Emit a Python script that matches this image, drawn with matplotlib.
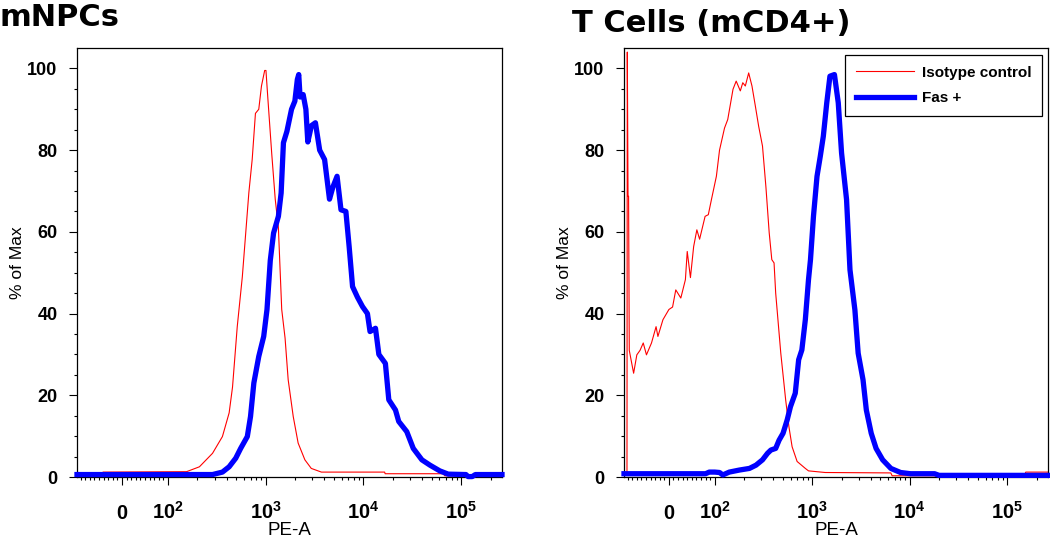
import numpy as np
import matplotlib
matplotlib.use("Agg")
from matplotlib import pyplot as plt
from matplotlib.ticker import FixedLocator

plt.rcParams['font.family'] = ['Liberation Sans', 'DejaVu Sans']
plt.rcParams['mathtext.fontset'] = 'custom'
plt.rcParams['mathtext.rm'] = 'Liberation Sans'
plt.rcParams['mathtext.bf'] = 'Liberation Sans:bold'

# Histogrammes (PE-A, % of Max).
npc_iso_x = [-41, 155, 210, 286, 361, 423, 458, 512, 577, 673, 728, 786, 850, 906, 977, 1007,
             1055, 1155, 1253, 1350, 1460, 1580, 1700, 1915, 2150, 2520, 2930, 3720, 16500,
             16700, 66000, 68000, 262144]
npc_iso_y = [1.2, 1.3, 2.5, 5.8, 9.9, 15.7, 22, 36.8, 49, 69.6, 77.7, 89, 90, 95.7, 99.5, 99.5,
             92.4, 79, 68, 61, 41, 34, 23.8, 14.8, 8.3, 4.2, 2.1, 1.2, 1.2,
             0.8, 0.8, 0.3, 0.3]

npc_fas_x = [-98, 132, 286, 361, 423, 494, 555, 649, 700, 757, 850, 955, 1032, 1115, 1205, 1350,
             1440, 1520, 1650, 1840, 1990, 2110, 2180, 2250, 2420, 2580, 2700, 2940, 3230, 3570,
             4010, 4500, 4880, 5380, 5900, 6620, 7150, 7750, 8700, 9800, 11000, 11700, 13300,
             14400, 16800, 18200, 21300, 23000, 27800, 32400, 39700, 48000, 60500, 73800,
             112000, 118000, 130000, 140000, 262144]
npc_fas_y = [0.6, 0.6, 0.6, 1.2, 2.5, 4.6, 7, 9.9, 14.8, 23, 29.5, 34.4, 41, 53, 59.7, 63.8,
             69.5, 81.8, 84.6, 90, 92, 97.3, 98.5, 93, 93.6, 90, 82, 86, 86.7, 80,
             77.7, 68, 71, 73.6, 65.4, 65, 56.4, 46.6, 44, 41.7, 40, 35.6, 36.4,
             30, 27.8, 18.9, 16.4, 13.6, 11.1, 7, 4.2, 2.9, 1.5, 0.7,
             0.6, 0.1, 0.1, 0.6, 0.6]

tc_iso_x = [-91.5, -90.8, -89.2, -88.0, -86.5, -77, -70, -63, -56, -49, -38, -28, -24, -13, 0, 8,
            15, 26, 36, 40, 47, 54, 61, 67, 79, 86, 93, 104, 112, 126, 136, 154, 166, 183, 194,
            206, 223, 241, 261, 282, 309, 335, 362, 385, 406, 422, 476, 534, 577, 622, 700, 850,
            916, 1360, 6400, 6600, 150000, 155000, 262144]
tc_iso_y = [0.8, 104, 68.7, 68.7, 31, 25.4, 29.9, 31, 32.8, 29.9, 32.8, 36.8, 34.4, 38.5, 41, 41.6,
            45.8, 43.8, 48.3, 55.2, 48.8, 56.4, 60.5, 58.2, 63.8, 64.2, 68, 73.6, 80, 85.4, 87.5,
            94.9, 96.9, 94.5, 96.5, 95.7, 98.9, 95.7, 90.8, 85.9, 81, 71, 59.8, 53.2, 52.4, 45,
            30.3, 18.9, 12.3, 7.4, 3.8, 2.1, 1.5, 1.1, 1.0, 0.3, 0.3, 1.2, 1.2]

tc_fas_x = [-98, 80, 88, 100, 112, 121, 141, 179, 227, 265, 309, 348, 377, 422, 457, 502, 554,
            598, 670, 726, 783, 850, 916, 960, 1030, 1120, 1210, 1300, 1410, 1520, 1690, 1850,
            2000, 2250, 2440, 2740, 2960, 3320, 3590, 4030, 4520, 5280, 6410, 8060, 10200,
            18000, 20000, 262144]
tc_fas_y = [0.8, 0.8, 1.2, 1.2, 1.1, 0.5, 1.2, 1.7, 2.1, 2.9, 4.2, 5.8, 6.6, 7, 9, 10.7, 14,
            17.2, 20.5, 28.7, 31.1, 38.5, 48.3, 53.2, 63.8, 73.6, 78.5, 83.4, 91.6, 98.1, 98.5,
            91.6, 79.3, 67.9, 50.7, 40.9, 30.3, 23.8, 16.4, 10.7, 7, 4.2, 2.1, 1.1, 0.8,
            0.8, 0.4, 0.4]

x_major = [0, 1e2, 1e3, 1e4, 1e5]
x_labels = [r'$\mathbf{0}$', r'$\mathbf{10^{2}}$', r'$\mathbf{10^{3}}$', r'$\mathbf{10^{4}}$',
            r'$\mathbf{10^{5}}$']
x_minor = ([-v for v in range(10, 100, 10)] + list(range(10, 100, 10))
           + list(range(200, 1000, 100)) + list(range(2000, 10000, 1000))
           + list(range(20000, 100000, 10000)) + [200000])
y_major = [0, 20, 40, 60, 80, 100]


def style_axes(ax):
    ax.set_xscale('symlog', linthresh=100, linscale=0.423)
    ax.set_xlim(-98, 262144)
    ax.set_ylim(0, 105)
    ax.set_xticks(x_major, x_labels, va='baseline', fontsize=14.5)
    ax.xaxis.set_minor_locator(FixedLocator(x_minor))
    ax.set_yticks(y_major, [str(v) for v in y_major], fontsize=13, fontweight='bold')
    ax.yaxis.set_minor_locator(FixedLocator(np.arange(0, 101, 5)))
    ax.tick_params(which='major', length=6, width=0.8, direction='out')
    ax.tick_params(which='minor', length=2.5, width=0.8, direction='out')
    ax.tick_params(axis='x', which='major', pad=24)
    ax.tick_params(axis='y', which='major', pad=8)
    for spine in ax.spines.values():
        spine.set_linewidth(0.9)
    ax.set_xlabel('PE-A', fontsize=13.5)
    ax.xaxis.set_label_coords(0.5, -0.106)
    ax.set_ylabel('% of Max', fontsize=12.5)
    ax.yaxis.set_label_coords(-0.122, 0.5)


fig = plt.figure(figsize=(10.5, 5.4), dpi=100)
ax1 = fig.add_axes([77 / 1050, 63 / 540, 425 / 1050, 429 / 540])
ax2 = fig.add_axes([624 / 1050, 63 / 540, 424 / 1050, 429 / 540])

ax1.plot(npc_iso_x, npc_iso_y, color='#ff0000', lw=0.8, clip_on=False, zorder=2)
ax1.plot(npc_fas_x, npc_fas_y, color='#0000ff', lw=3.8, clip_on=False, zorder=3)
ax2.plot(tc_iso_x, tc_iso_y, color='#ff0000', lw=0.8, clip_on=False, zorder=2,
         label='Isotype control')
ax2.plot(tc_fas_x, tc_fas_y, color='#0000ff', lw=3.8, clip_on=False, zorder=3, label='Fas +')

style_axes(ax1)
style_axes(ax2)

leg = ax2.legend(loc='upper right', bbox_to_anchor=(0.9858, 0.9837), borderaxespad=0,
                 prop={'weight': 'bold', 'size': 11}, handlelength=3.8,
                 handletextpad=0.5, borderpad=0.7, labelspacing=0.75,
                 fancybox=False, framealpha=1, edgecolor='black')
leg.get_frame().set_linewidth(0.9)

fig.text(0.0, 1 - 26 / 540, 'mNPCs', ha='left', va='baseline', fontsize=22,
         fontweight='bold', family='DejaVu Sans')
fig.text(572 / 1050, 1 - 32 / 540, 'T Cells (mCD4+)', ha='left', va='baseline', fontsize=22,
         fontweight='bold', family='DejaVu Sans')

fig.savefig('out.png', dpi=100)
